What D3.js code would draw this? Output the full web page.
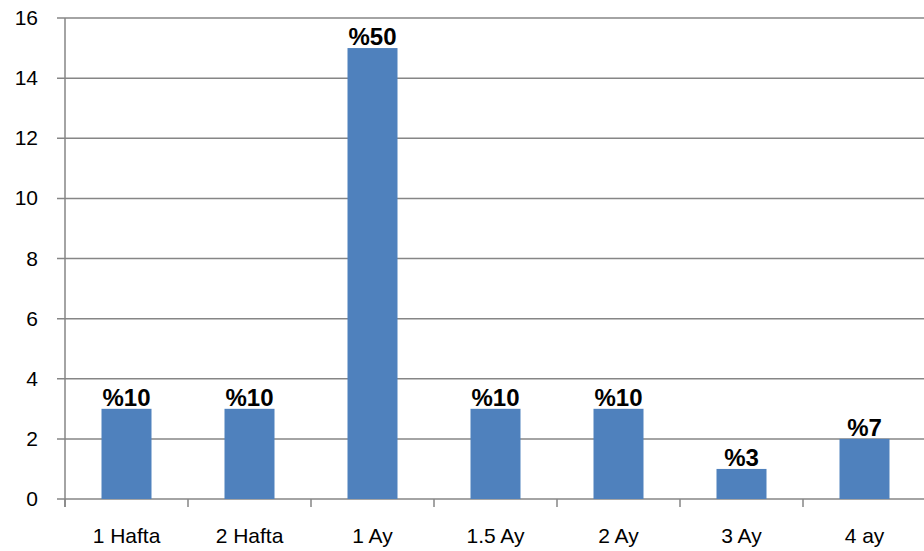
<!DOCTYPE html>
<html>
<head>
<meta charset="utf-8">
<script src="https://cdn.jsdelivr.net/npm/d3@7"></script>
<style>
  body { margin: 0; background: #fff; }
  svg text { font-family: "Liberation Sans", Arial, sans-serif; fill: #000; }
</style>
</head>
<body>
<div id="chart"></div>
<script>
const categories = ["1 Hafta", "2 Hafta", "1 Ay", "1.5 Ay", "2 Ay", "3 Ay", "4 ay"];
const values = [3, 3, 15, 3, 3, 1, 2];
const labels = ["%10", "%10", "%50", "%10", "%10", "%3", "%7"];
const yTicks = [0, 2, 4, 6, 8, 10, 12, 14, 16];

const width = 924, height = 551;
const plotLeft = 65, plotRight = 926, plotTop = 18, plotBottom = 499;

const svg = d3.select("#chart").append("svg")
    .attr("width", width)
    .attr("height", height);

const x = d3.scaleBand().domain(categories).range([plotLeft, plotRight]);
const y = d3.scaleLinear().domain([0, 16]).range([plotBottom, plotTop]);

// gridlines
svg.selectAll(".grid")
    .data(yTicks)
    .enter()
    .append("line")
    .attr("x1", plotLeft - 8)
    .attr("x2", plotRight)
    .attr("y1", d => y(d))
    .attr("y2", d => y(d))
    .attr("stroke", "#868686")
    .attr("stroke-width", 1.5);

// y axis line
svg.append("line")
    .attr("x1", plotLeft).attr("x2", plotLeft)
    .attr("y1", plotTop).attr("y2", plotBottom + 8)
    .attr("stroke", "#868686")
    .attr("stroke-width", 1.5);

// y labels
svg.selectAll(".ylab")
    .data(yTicks)
    .enter()
    .append("text")
    .attr("x", plotLeft - 27)
    .attr("y", d => y(d) + 7)
    .attr("text-anchor", "end")
    .style("font-size", "21px")
    .text(d => d);

// x ticks between categories
const bounds = categories.map(c => x(c)).concat([plotRight]);
svg.selectAll(".xtick")
    .data(bounds)
    .enter()
    .append("line")
    .attr("x1", d => d).attr("x2", d => d)
    .attr("y1", plotBottom).attr("y2", plotBottom + 8)
    .attr("stroke", "#868686")
    .attr("stroke-width", 1.5);

// x labels
svg.selectAll(".xlab")
    .data(categories)
    .enter()
    .append("text")
    .attr("x", d => x(d) + x.bandwidth() / 2)
    .attr("y", 543)
    .attr("text-anchor", "middle")
    .style("font-size", "21px")
    .text(d => d);

// bars
const barW = 50;
svg.selectAll(".bar")
    .data(values)
    .enter()
    .append("rect")
    .attr("x", (d, i) => x(categories[i]) + x.bandwidth() / 2 - barW / 2)
    .attr("y", d => y(d))
    .attr("width", barW)
    .attr("height", d => y(0) - y(d))
    .attr("fill", "#4f81bd");

// data labels
svg.selectAll(".dlab")
    .data(values)
    .enter()
    .append("text")
    .attr("x", (d, i) => x(categories[i]) + x.bandwidth() / 2)
    .attr("y", d => y(d) - 3)
    .attr("text-anchor", "middle")
    .style("font-size", "24px")
    .style("font-weight", "bold")
    .text((d, i) => labels[i]);
</script>
</body>
</html>
